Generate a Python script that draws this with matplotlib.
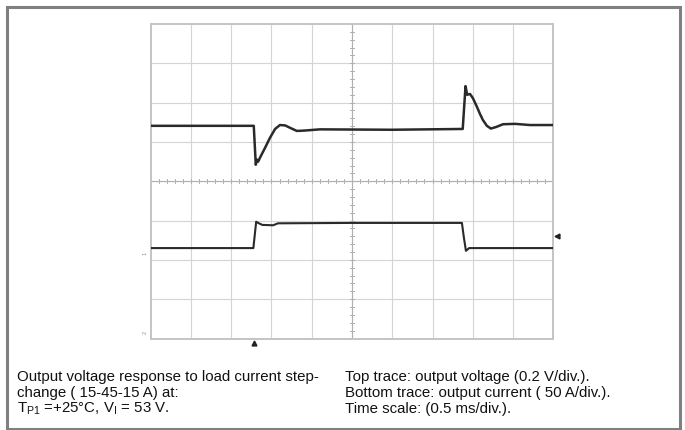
import matplotlib.pyplot as plt
from matplotlib.patches import Rectangle

plt.rcParams["font.family"] = ["Liberation Sans", "DejaVu Sans"]
plt.rcParams["mathtext.fontset"] = "custom"
plt.rcParams["mathtext.rm"] = "Liberation Sans"

# Scope traces in divisions (x: 0..10, y: -4..4)
top_t = [0.0, 2.56, 2.61, 2.64, 2.67, 2.71, 2.84, 2.96, 3.09, 3.21, 3.34, 3.46,
         3.63, 3.83, 4.20, 6.00, 7.75, 7.82, 7.86, 7.93, 8.00, 8.10, 8.18,
         8.25, 8.35, 8.45, 8.58, 8.75, 9.05, 9.42, 10.0]
top_v = [1.41, 1.41, 0.42, 0.55, 0.50, 0.59, 0.85, 1.10, 1.33, 1.43, 1.42, 1.36,
         1.28, 1.29, 1.32, 1.31, 1.33, 2.42, 2.20, 2.22, 2.12, 1.90, 1.71,
         1.56, 1.41, 1.34, 1.38, 1.45, 1.46, 1.43, 1.43]

bot_t = [0.0, 2.55, 2.62, 2.67, 2.77, 3.04, 3.16, 5.00, 7.73, 7.78, 7.83,
         7.91, 10.0]
bot_v = [-1.70, -1.70, -1.03, -1.06, -1.11, -1.12, -1.07, -1.06, -1.06,
         -1.44, -1.77, -1.70, -1.70]

caption_left = [
    "Output voltage response to load current step-",
    "change ( 15-45-15 A) at:",
    r"T$_{\mathrm{P1}}$ =+25°C, V$_{\mathrm{I}}$ = 53 V.",
]
caption_right = [
    "Top trace: output voltage (0.2 V/div.).",
    "Bottom trace: output current ( 50 A/div.).",
    "Time scale: (0.5 ms/div.).",
]

W, H = 685, 430
fig = plt.figure(figsize=(W / 100, H / 100), dpi=100)

# outer frame
fig.patches.append(Rectangle((7 / W, 1.5 / H), 673 / W, 421.5 / H,
                             transform=fig.transFigure, fill=False,
                             edgecolor="#808080", linewidth=2.2))

# scope screen
x0, x1, y0, y1 = 150.7, 553.3, 24, 338.5
ax = fig.add_axes([x0 / W, 1 - y1 / H, (x1 - x0) / W, (y1 - y0) / H])
ax.set_xlim(0, 10)
ax.set_ylim(-4, 4)
for i in range(1, 10):
    ax.axvline(i, color="#d4d4d4", lw=0.8, zorder=1)
for j in range(-3, 4):
    ax.axhline(j, color="#d4d4d4", lw=0.8, zorder=1)

# centre cross with small ticks
ax.axvline(5, color="#b0b0b0", lw=0.8, zorder=1)
ax.axhline(0, color="#b0b0b0", lw=0.8, zorder=1)
for k in range(1, 50):
    ax.plot([k * 0.2, k * 0.2], [-0.05, 0.05], color="#b0b0b0", lw=0.7, zorder=1)
for k in range(-19, 20):
    ax.plot([4.95, 5.05], [k * 0.2, k * 0.2], color="#b0b0b0", lw=0.7, zorder=1)

ax.plot(top_t, top_v, color="#2a2a2a", lw=1.8, zorder=3)
ax.plot(bot_t, bot_v, color="#2a2a2a", lw=1.5, zorder=3)

ax.set_xticks([])
ax.set_yticks([])
for s in ax.spines.values():
    s.set_color("#c4c4c4")
    s.set_linewidth(1.4)

# channel / trigger markers
ax.text(-0.08, -1.83, "1", fontsize=4, color="#909090", rotation=90,
        ha="right", va="center", clip_on=False)
ax.text(-0.08, -3.85, "2", fontsize=4, color="#909090", rotation=90,
        ha="right", va="center", clip_on=False)
ax.plot([2.56], [-4.12], marker="^", ms=3.5, color="#222222", clip_on=False)
ax.plot([10.08], [-1.39], marker="<", ms=3.5, color="#222222", clip_on=False)

for i, line in enumerate(caption_left):
    fig.text(17 / W, 1 - (381 + 15.8 * i) / H, line, fontsize=10.8,
             ha="left", va="baseline", color="#111111")
for i, line in enumerate(caption_right):
    fig.text(345 / W, 1 - (381 + 15.8 * i) / H, line, fontsize=10.8,
             ha="left", va="baseline", color="#111111")

fig.savefig("out.png", dpi=100)
